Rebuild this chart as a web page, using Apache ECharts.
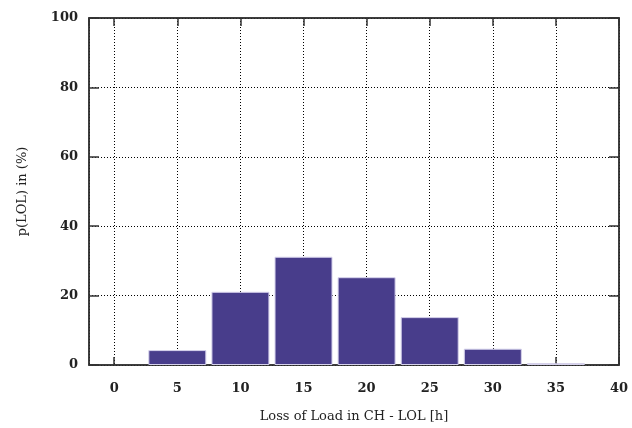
<!DOCTYPE html>
<html>
<head>
<meta charset="utf-8">
<script src="https://cdn.jsdelivr.net/npm/echarts@6/dist/echarts.min.js"></script>
<style>
  html, body { margin: 0; padding: 0; background: #fff; }
  #chart { width: 632px; height: 428px; }
</style>
</head>
<body>
<div id="chart"></div>
<script>
// loss of load hours (bin centres) and probability in %
const lolHours = [5, 10, 15, 20, 25, 30, 35];
const probLOL = [4.3, 21.1, 31.2, 25.3, 13.8, 4.7, 0.5];

const font = "DejaVu Serif";
const tickText = { fontFamily: font, fontWeight: "bold", fontSize: 13, color: "#222" };
const dotted = { color: "#000", type: [1, 2], width: 1 };
const frame = { show: true, onZero: false, lineStyle: { color: "#333", width: 1.5 } };

let myChart = echarts.init(document.getElementById("chart"));
myChart.setOption({
  animation: false,
  grid: {
    left: 89, right: 13, top: 18, bottom: 59,
    show: true, borderColor: "#333", borderWidth: 1.5,
  },
  xAxis: [
    {
      type: "value",
      min: -2,
      max: 40,
      splitNumber: 8,
      name: "Loss of Load in CH - LOL [h]",
      nameLocation: "middle",
      nameGap: 45,
      nameTextStyle: { fontFamily: font, fontSize: 13, color: "#222" },
      axisLine: frame,
      axisTick: { show: true, inside: true, length: 8, lineStyle: { color: "#333", width: 1.5 } },
      axisLabel: Object.assign({ margin: 17, showMinLabel: false }, tickText),
      splitLine: { show: true, lineStyle: dotted },
    },
    {
      type: "value",
      position: "top",
      min: -2,
      max: 40,
      splitNumber: 8,
      axisLine: frame,
      axisTick: { show: true, inside: true, length: 8, lineStyle: { color: "#333", width: 1.5 } },
      axisLabel: { show: false },
      splitLine: { show: false },
    },
  ],
  yAxis: [
    {
      type: "value",
      min: 0,
      max: 100,
      interval: 20,
      name: "p(LOL) in (%)",
      nameLocation: "middle",
      nameGap: 60,
      nameTextStyle: { fontFamily: font, fontSize: 13, color: "#222" },
      axisLine: frame,
      axisTick: { show: true, inside: true, length: 10, lineStyle: { color: "#333", width: 1.5 } },
      axisLabel: Object.assign({ margin: 11 }, tickText),
      splitLine: { show: true, lineStyle: dotted },
    },
    {
      type: "value",
      position: "right",
      min: 0,
      max: 100,
      interval: 20,
      axisLine: frame,
      axisTick: { show: true, inside: true, length: 10, lineStyle: { color: "#333", width: 1.5 } },
      axisLabel: { show: false },
      splitLine: { show: false },
    },
  ],
  series: [
    {
      type: "bar",
      xAxisIndex: 0,
      yAxisIndex: 0,
      barWidth: 58,
      data: lolHours.map((h, i) => [h, probLOL[i]]),
      itemStyle: { color: "#483d8b", borderColor: "#d6d2ec", borderWidth: 1 },
      z: 3,
    },
  ],
});
</script>
</body>
</html>
